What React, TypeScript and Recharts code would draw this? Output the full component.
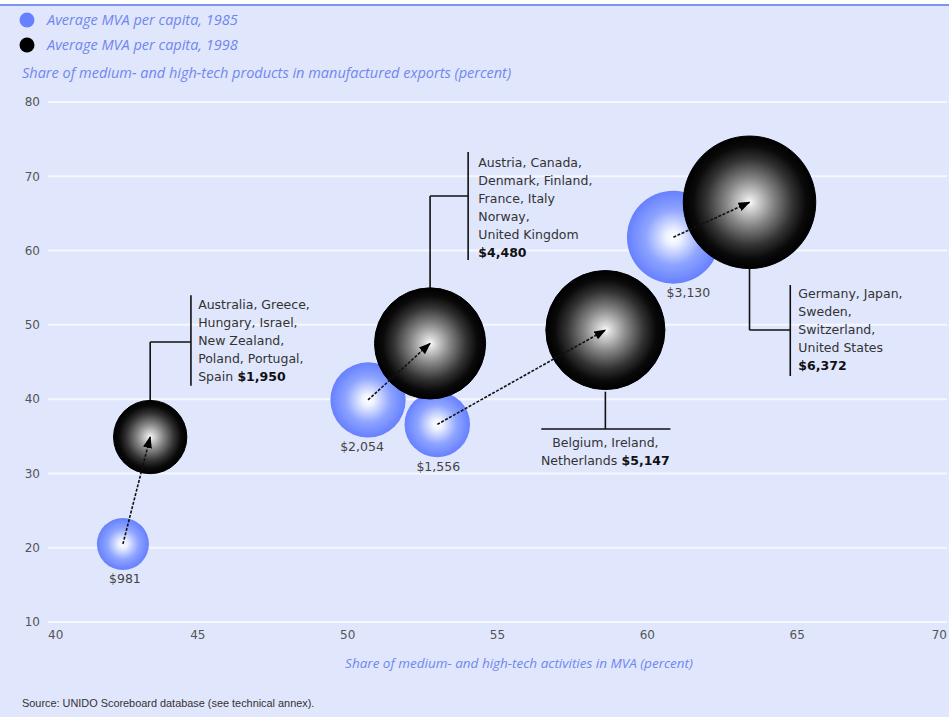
import React from 'react';
import {
  ScatterChart,
  Scatter,
  XAxis,
  YAxis,
  ZAxis,
  CartesianGrid,
  ReferenceLine,
  ReferenceDot,
} from 'recharts';

// Country groups (one per bubble pair)
const groupNames = [
  ['Australia, Greece,', 'Hungary, Israel,', 'New Zealand,', 'Poland, Portugal,', 'Spain'],
  ['Austria, Canada,', 'Denmark, Finland,', 'France, Italy', 'Norway,', 'United Kingdom'],
  ['Belgium, Ireland,', 'Netherlands'],
  ['Germany, Japan,', 'Sweden,', 'Switzerland,', 'United States'],
];

// 1985 bubbles
const x1985 = [42.5, 50.68, 52.99, 60.87];
const y1985 = [20.5, 39.9, 36.6, 61.8];
const mva1985 = [981, 2054, 1556, 3130];

// 1998 bubbles
const x1998 = [43.41, 52.75, 58.6, 63.41];
const y1998 = [34.9, 47.5, 49.3, 66.5];
const mva1998 = [1950, 4480, 5147, 6372];

const xTicks = [40, 45, 50, 55, 60, 65, 70];
const yTicks = [10, 20, 30, 40, 50, 60, 70, 80];

// leader lines for the group annotations, in data units
const leaders = [
  [[43.41, 39.8], [43.41, 47.7]],
  [[43.41, 47.7], [44.77, 47.7]],
  [[44.77, 54.0], [44.77, 41.8]],
  [[52.75, 54.9], [52.75, 67.34]],
  [[52.75, 67.34], [54.02, 67.34]],
  [[54.02, 73.27], [54.02, 58.73]],
  [[58.6, 41.0], [58.6, 35.98]],
  [[56.46, 35.98], [60.77, 35.98]],
  [[63.41, 57.8], [63.41, 49.3]],
  [[63.41, 49.3], [64.77, 49.3]],
  [[64.77, 55.36], [64.77, 43.11]],
];
// where each annotation text block starts (first line), data units
const noteX = [45.01, 54.36, 58.6, 65.04];
const noteY = [52.66, 71.78, 34.09, 54.15];
const noteInline = [true, false, true, false];
const noteAnchor = ['start', 'start', 'middle', 'start'];
const labelDx = [2, -6, 1, 15];

const fmt = (v: number) => '$' + v.toLocaleString('en-US');

const data1985 = mva1985.map((v, i) => ({ x: x1985[i], y: y1985[i], z: v, i }));
const data1998 = mva1998.map((v, i) => ({ x: x1998[i], y: y1998[i], z: v, i }));

const FONT = '"DejaVu Sans", Verdana, sans-serif';
const ITALIC = '"Open Sans", "DejaVu Sans", sans-serif';
const BLUE_TEXT = '#6f87f0';
const ITALIC_SIZE = 14.5;

const radiusOf = (p: any) => (p.width ? p.width / 2 : Math.sqrt((p.size || 0) / Math.PI));

const Bubble1985 = (p: any) => {
  const r = radiusOf(p);
  const i = p.payload.i;
  return (
    <g>
      <circle cx={p.cx} cy={p.cy} r={r} fill="url(#grad1985)" />
      <text
        x={p.cx + labelDx[i]}
        y={p.cy + r + 9}
        dy="0.35em"
        textAnchor="middle"
        fontSize={12.5}
        fontFamily={FONT}
        fill="#444"
      >
        {fmt(p.payload.z)}
      </text>
    </g>
  );
};

const Bubble1998 = (p: any) => {
  const r = radiusOf(p);
  return (
    <g>
      <circle cx={p.cx} cy={p.cy} r={r} fill="url(#grad1998)" stroke="#000" strokeWidth={1} />
    </g>
  );
};

const Arrow = (p: any) => (
  <line
    x1={p.x1}
    y1={p.y1}
    x2={p.x2}
    y2={p.y2}
    stroke="#111"
    strokeWidth={1.6}
    strokeDasharray="3 1.5"
    markerEnd="url(#arrowHead)"
  />
);

const Leader = (p: any) => (
  <line x1={p.x1} y1={p.y1} x2={p.x2} y2={p.y2} stroke="#111" strokeWidth={1.6} />
);

const makeNote = (k: number) => (p: any) => {
  const lines = groupNames[k];
  const value = fmt(mva1998[k]);
  const common = {
    x: p.cx,
    fontSize: 12.5,
    fontFamily: FONT,
    fill: '#333',
    textAnchor: noteAnchor[k],
  } as any;
  const rows: React.ReactNode[] = lines.map((ln, j) => {
    const last = j === lines.length - 1;
    return (
      <text key={j} {...common} y={p.cy + j * 18} dy="0.35em">
        {ln}
        {last && noteInline[k] ? (
          <tspan fontWeight="bold" fill="#111">{' ' + value}</tspan>
        ) : null}
      </text>
    );
  });
  if (!noteInline[k]) {
    rows.push(
      <text key="v" {...common} y={p.cy + lines.length * 18} dy="0.35em" fontWeight="bold" fill="#111">
        {value}
      </text>
    );
  }
  return <g>{rows}</g>;
};

const XTick = (props: any) => {
  const { x, y, payload } = props;
  const v = payload.value;
  const anchor = v === 40 ? 'start' : v === 70 ? 'end' : 'middle';
  return (
    <text x={x} y={y} dy="0.71em" textAnchor={anchor} fontSize={12} fontFamily={FONT} fill="#555">
      {v}
    </text>
  );
};

export default function App() {
  return (
    <div
      style={{
        position: 'absolute',
        left: 0,
        top: 0,
        width: 949,
        height: 717,
        background: '#e0e6fc',
        overflow: 'hidden',
      }}
    >
      <svg width={949} height={717} style={{ position: 'absolute', left: 0, top: 0 }}>
        <rect x={0} y={0} width={949} height={4} fill="#ffffff" />
        <rect x={0} y={4} width={949} height={2} fill="#7d94f3" />
        <circle cx={27} cy={20} r={7.5} fill="#6680ff" />
        <text x={47} y={20} dy="0.35em" fontSize={ITALIC_SIZE} fontStyle="italic" fontFamily={ITALIC} fill={BLUE_TEXT}>
          Average MVA per capita, 1985
        </text>
        <circle cx={27} cy={45} r={7.5} fill="#000" />
        <text x={47} y={45} dy="0.35em" fontSize={ITALIC_SIZE} fontStyle="italic" fontFamily={ITALIC} fill={BLUE_TEXT}>
          Average MVA per capita, 1998
        </text>
        <text x={22} y={73} dy="0.35em" fontSize={ITALIC_SIZE} fontStyle="italic" fontFamily={ITALIC} fill={BLUE_TEXT}>
          Share of medium- and high-tech products in manufactured exports (percent)
        </text>
        <text x={519} y={663} dy="0.35em" textAnchor="middle" fontSize={13.5} fontStyle="italic" fontFamily={ITALIC} fill={BLUE_TEXT}>
          Share of medium- and high-tech activities in MVA (percent)
        </text>
        <text x={22} y={703} dy="0.35em" fontSize={10.9} fontFamily='"Liberation Sans Narrow", "Liberation Sans", sans-serif' fill="#333">
          Source: UNIDO Scoreboard database (see technical annex).
        </text>
      </svg>
      <div style={{ position: 'absolute', left: 0, top: 0 }}>
        <ScatterChart width={949} height={717} margin={{ top: 102, right: 2, bottom: 65, left: 0 }}>
          <defs>
            <radialGradient id="grad1985" cx="50%" cy="50%" r="50%">
              <stop offset="0%" stopColor="#ffffff" />
              <stop offset="15%" stopColor="#f0f3ff" />
              <stop offset="60%" stopColor="#8ea4ff" />
              <stop offset="100%" stopColor="#6680ff" />
            </radialGradient>
            <radialGradient id="grad1998" cx="50%" cy="50%" r="50%">
              <stop offset="0%" stopColor="#ffffff" />
              <stop offset="8%" stopColor="#dddddd" />
              <stop offset="35%" stopColor="#888888" />
              <stop offset="65%" stopColor="#333333" />
              <stop offset="85%" stopColor="#0a0a0a" />
              <stop offset="100%" stopColor="#000000" />
            </radialGradient>
            <marker
              id="arrowHead"
              markerWidth={12}
              markerHeight={10}
              refX={11}
              refY={5}
              orient="auto"
              markerUnits="userSpaceOnUse"
            >
              <path d="M0,0.5 L12,5 L0,9.5 z" fill="#000" />
            </marker>
          </defs>
          <CartesianGrid horizontal vertical={false} stroke="#f6f8ff" strokeWidth={2} />
          <XAxis
            type="number"
            dataKey="x"
            domain={[40, 70]}
            ticks={xTicks}
            axisLine={false}
            tickLine={false}
            height={30}
            tick={<XTick />}
            interval={0}
          />
          <YAxis
            type="number"
            dataKey="y"
            domain={[10, 80]}
            ticks={yTicks}
            axisLine={false}
            tickLine={false}
            width={48}
            interval={0}
            tick={{ fill: '#555', fontSize: 12, fontFamily: FONT }}
          />
          <ZAxis type="number" dataKey="z" domain={[0, 7000]} range={[0, 15150]} />
          {leaders.map((s, k) => (
            <ReferenceLine
              key={'l' + k}
              segment={[
                { x: s[0][0], y: s[0][1] },
                { x: s[1][0], y: s[1][1] },
              ]}
              shape={Leader}
              ifOverflow="visible"
            />
          ))}
          {noteX.map((nx, k) => (
            <ReferenceDot key={'n' + k} x={nx} y={noteY[k]} r={0} shape={makeNote(k)} ifOverflow="visible" />
          ))}
          <Scatter data={data1985} shape={Bubble1985} isAnimationActive={false} />
          <Scatter data={data1998} shape={Bubble1998} isAnimationActive={false} />
          {x1985.map((x, k) => (
            <ReferenceLine
              key={'a' + k}
              segment={[
                { x, y: y1985[k] },
                { x: x1998[k], y: y1998[k] },
              ]}
              shape={Arrow}
              ifOverflow="visible"
              zIndex={1500}
            />
          ))}
        </ScatterChart>
      </div>
    </div>
  );
}
